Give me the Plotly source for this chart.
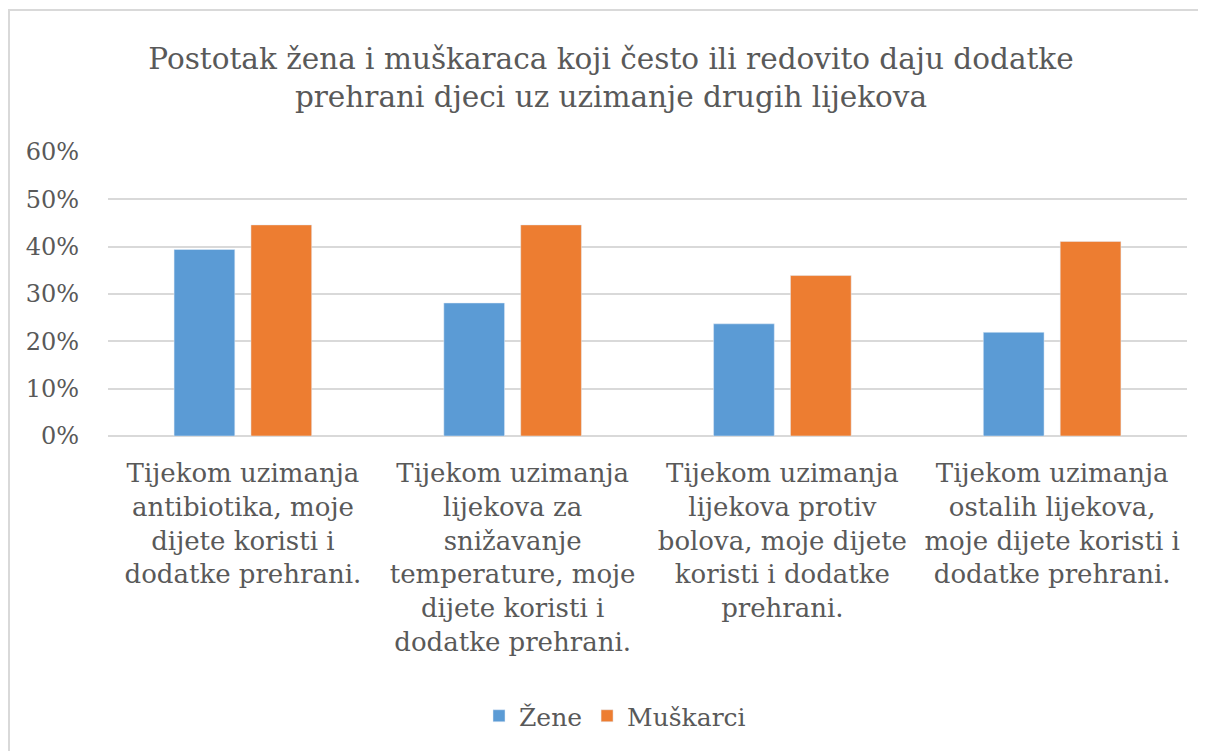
import plotly.graph_objects as go

categories = [
    "Tijekom uzimanja<br>antibiotika, moje<br>dijete koristi i<br>dodatke prehrani.",
    "Tijekom uzimanja<br>lijekova za<br>snižavanje<br>temperature, moje<br>dijete koristi i<br>dodatke prehrani.",
    "Tijekom uzimanja<br>lijekova protiv<br>bolova, moje dijete<br>koristi i dodatke<br>prehrani.",
    "Tijekom uzimanja<br>ostalih lijekova,<br>moje dijete koristi i<br>dodatke prehrani.",
]
zene = [0.394, 0.281, 0.237, 0.219]
muskarci = [0.446, 0.446, 0.339, 0.411]
y_ticks = [0, 0.1, 0.2, 0.3, 0.4, 0.5, 0.6]
y_tick_labels = ["0%", "10%", "20%", "30%", "40%", "50%", "60%"]

FONT = "DejaVu Serif"
TXT = "#595959"

fig = go.Figure()
fig.add_trace(go.Bar(x=categories, y=zene, name="Žene", marker_color="#5b9bd5"))
fig.add_trace(go.Bar(x=categories, y=muskarci, name="Muškarci", marker_color="#ed7d31"))

OFF = 8  # page body offset
W, H = 1206, 751
L, T = 108 - OFF, 152 - OFF
pw, ph = 1079, 284
R, B = W - L - pw, H - T - ph

fig.update_layout(
    width=W, height=H,
    margin=dict(l=L, r=R, t=T, b=B),
    paper_bgcolor="white", plot_bgcolor="white",
    barmode="group", bargap=0.43, bargroupgap=0.21,
    font=dict(family=FONT, color=TXT, size=26),
    title=dict(
        text="Postotak žena i muškaraca koji često ili redovito daju dodatke<br>prehrani djeci uz uzimanje drugih lijekova",
        x=(611 - OFF) / W, xanchor="center", xref="container",
        y=1 - (69 - OFF) / H, yanchor="middle", yref="container",
        font=dict(family=FONT, size=29.5, color=TXT),
    ),
    legend=dict(
        orientation="h", x=(615 - 108) / pw, xanchor="center",
        y=(436 - 716) / ph, yanchor="middle",
        font=dict(family=FONT, size=25, color=TXT),
        itemwidth=30, traceorder="normal",
    ),
    showlegend=True,
)
fig.update_xaxes(
    showgrid=False, zeroline=False, showline=False, ticks="",
    tickfont=dict(family=FONT, size=26, color=TXT),
    ticklabelstandoff=19,
)
fig.update_yaxes(
    range=[0, 0.6], tickvals=y_ticks, ticktext=y_tick_labels,
    showgrid=True, gridcolor="#d9d9d9", gridwidth=1.5,
    zeroline=True, zerolinecolor="#d9d9d9", zerolinewidth=1.5,
    showline=False, ticks="",
    tickfont=dict(family=FONT, size=24, color=TXT),
    ticklabelstandoff=28,
)

# outer chart border
fig.add_shape(
    type="rect", xref="paper", yref="paper",
    x0=-(L - 1) / pw, x1=(W + 20 - L) / pw,
    y0=(436 - (H + 20)) / ph, y1=(436 - 10) / ph,
    line=dict(color="#d9d9d9", width=2), fillcolor="rgba(0,0,0,0)",
    layer="below",
)

fig.write_html("out.html")
